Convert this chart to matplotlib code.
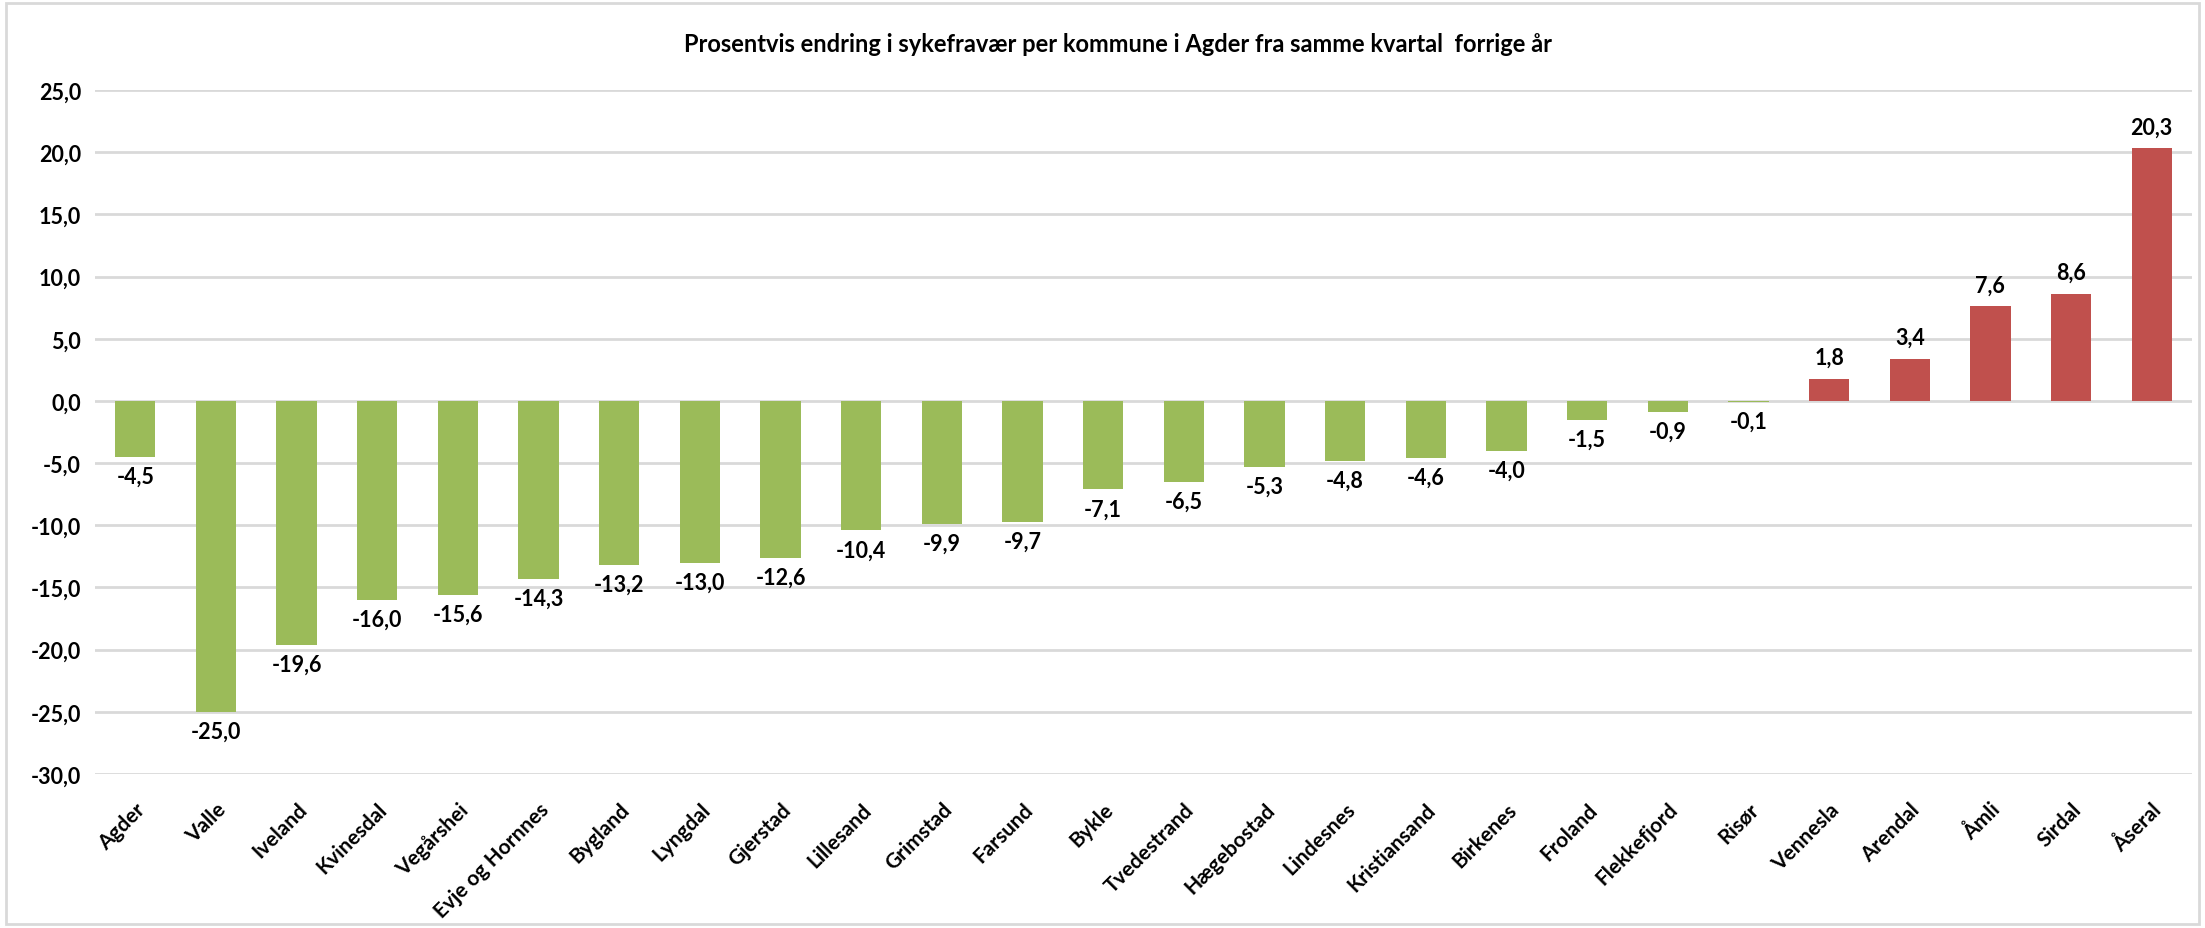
import matplotlib
matplotlib.use("Agg")
import matplotlib.pyplot as plt
from matplotlib.patches import Rectangle

plt.rcParams['font.family'] = ['Lato', 'DejaVu Sans']

categories = ["Agder", "Valle", "Iveland", "Kvinesdal", "Vegårshei", "Evje og Hornnes",
              "Bygland", "Lyngdal", "Gjerstad", "Lillesand", "Grimstad", "Farsund",
              "Bykle", "Tvedestrand", "Hægebostad", "Lindesnes", "Kristiansand",
              "Birkenes", "Froland", "Flekkefjord", "Risør", "Vennesla", "Arendal",
              "Åmli", "Sirdal", "Åseral"]
values = [-4.5, -25.0, -19.6, -16.0, -15.6, -14.3, -13.2, -13.0, -12.6, -10.4, -9.9,
          -9.7, -7.1, -6.5, -5.3, -4.8, -4.6, -4.0, -1.5, -0.9, -0.1, 1.8, 3.4, 7.6,
          8.6, 20.3]
yticks = [25, 20, 15, 10, 5, 0, -5, -10, -15, -20, -25, -30]
title = "Prosentvis endring i sykefravær per kommune i Agder fra samme kvartal  forrige år"

green = "#9BBB59"
red = "#C0504D"
W, H = 2205, 929
fig = plt.figure(figsize=(W / 100, H / 100), dpi=100)
ax = fig.add_axes([95 / W, 1 - 775 / H, (2192 - 95) / W, (775 - 91) / H])

x = list(range(len(categories)))
colors = [red if v > 0 else green for v in values]
ax.bar(x, values, width=0.5, color=colors, zorder=3)
ax.set_xlim(-0.5, len(categories) - 0.5)
ax.set_ylim(-30, 25)
ax.set_yticks(yticks)
ax.set_yticklabels([f"{t:.1f}".replace(".", ",") for t in yticks],
                   fontsize=15.5, fontweight='bold')
ax.yaxis.grid(True, color="#D9D9D9", linewidth=2, zorder=0)
ax.set_axisbelow(True)
for s in ax.spines.values():
    s.set_visible(False)
ax.tick_params(axis='both', length=0)
ax.tick_params(axis='y', pad=10)
ax.set_xticks(x)
ax.set_xticklabels(categories, rotation=45, ha='right', rotation_mode='anchor',
                   fontsize=15, fontweight='bold')
ax.tick_params(axis='x', pad=18)

for xi, v in zip(x, values):
    lab = f"{v:.1f}".replace(".", ",")
    if v >= 0:
        ax.annotate(lab, (xi, v), xytext=(0, 11), textcoords='offset pixels',
                    ha='center', va='bottom', fontsize=15.5, fontweight='bold')
    else:
        ax.annotate(lab, (xi, v), xytext=(0, -9), textcoords='offset pixels',
                    ha='center', va='top', fontsize=15.5, fontweight='bold')

fig.text(1118 / W, 1 - 45 / H, title, ha='center', va='center',
         fontsize=17, fontweight='bold')

fig.patches.append(Rectangle((6 / W, 4 / H), (2199 - 6) / W, (925 - 4) / H,
                             transform=fig.transFigure, fill=False,
                             edgecolor="#D9D9D9", linewidth=2))

fig.savefig("out.png", dpi=100, facecolor='white')
